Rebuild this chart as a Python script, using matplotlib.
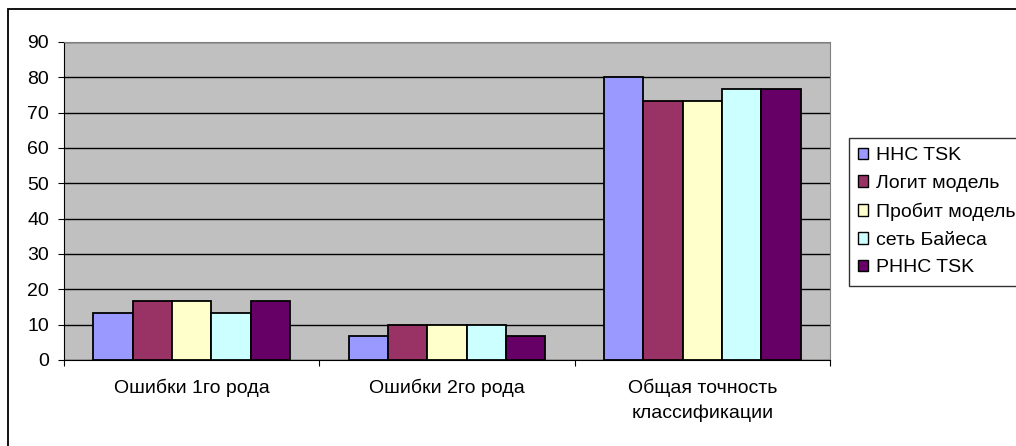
import matplotlib.pyplot as plt
import numpy as np
from matplotlib.patches import Rectangle, Patch

plt.rcParams['font.family'] = ['Liberation Sans', 'DejaVu Sans']

categories = ['Ошибки 1го рода', 'Ошибки 2го рода', 'Общая точность\nклассификации']
series = ['ННС TSK', 'Логит модель', 'Пробит модель', 'сеть Байеса', 'РННС TSK']
values = [
    [13.33, 6.67, 80.0],
    [16.67, 10.0, 73.33],
    [16.67, 10.0, 73.33],
    [13.33, 10.0, 76.67],
    [16.67, 6.67, 76.67],
]
colors = ['#9999FF', '#993366', '#FFFFCC', '#CCFFFF', '#660066']

W, H = 1016, 446
fig = plt.figure(figsize=(W / 100, H / 100), dpi=100)
fig.patch.set_facecolor('white')
# chart border (runs off the right and bottom edges)
fig.add_artist(Rectangle((8 / W, -20 / H), 1030 / W, (H - 9 + 20) / H,
                         transform=fig.transFigure, fill=False,
                         edgecolor='black', linewidth=1.3))

ax = fig.add_axes([64 / W, (H - 360) / H, 766 / W, 318 / H])
ax.set_facecolor('#C0C0C0')

n = len(series)
w = 1 / 6.5
x = np.arange(len(categories))
for i, (name, vals) in enumerate(zip(series, values)):
    offs = (i - (n - 1) / 2) * w
    ax.bar(x + offs, vals, width=w, color=colors[i], edgecolor='black',
           linewidth=1.3, label=name, zorder=3)

ax.set_ylim(0, 90)
ax.set_xlim(-0.5, len(categories) - 0.5)
ax.set_yticks(range(0, 91, 10))
ax.grid(axis='y', color='black', linewidth=1, zorder=1)
ax.tick_params(axis='y', direction='out', length=4.3, labelsize=14, pad=6.5)

# category labels sit between the tick marks
ax.set_xticks(np.arange(len(categories) + 1) - 0.5)
ax.set_xticklabels([])
ax.tick_params(axis='x', direction='out', length=4.3)
for xi, c in zip(x, categories):
    ax.text(xi, -5.3, c, ha='center', va='top', fontsize=14,
            linespacing=1.55)

for s in ['top', 'right']:
    ax.spines[s].set_color('#808080')
ax.spines['left'].set_color('black')
ax.spines['bottom'].set_color('black')

handles = [Patch(facecolor=c, edgecolor='black', linewidth=1) for c in colors]
leg = fig.legend(handles, series, loc='upper left',
                 bbox_to_anchor=(849 / W, 1 - 138 / H),
                 fontsize=14, frameon=True, fancybox=False,
                 handlelength=0.52, handleheight=0.52, handletextpad=0.4,
                 labelspacing=0.55, borderpad=0.48, borderaxespad=0)
leg.get_frame().set_edgecolor('black')
leg.get_frame().set_linewidth(1)

fig.savefig('out.png', dpi=100)
